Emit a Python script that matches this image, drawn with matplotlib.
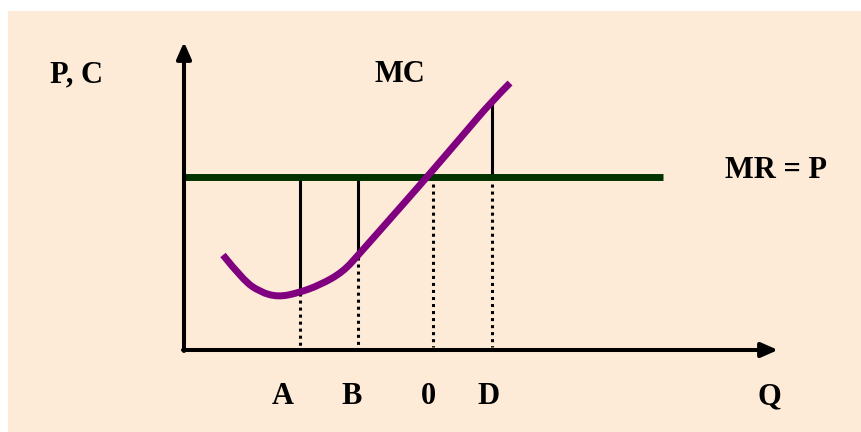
import matplotlib.pyplot as plt
from matplotlib.patches import Rectangle, PathPatch
from matplotlib.path import Path

# Curva de costo marginal (Q, C)
mc_q = [3.9, 5.9, 7.6, 9.4, 11.4, 13.6, 15.9, 17.6, 19.9, 22.1, 24.3, 27.9, 30.8, 32.6]
mc_c = [9.5, 7.0, 5.8, 5.3, 5.7, 6.5, 7.8, 9.7, 12.3, 14.8, 17.3, 21.5, 24.9, 26.7]

# Ingreso marginal = precio
precio = 17.3
mr_fin = 47.9

# Cantidades marcadas y costo marginal en cada una
cantidades = [11.6, 17.4, 24.9, 30.8]
mc_en_q = [5.7, 9.3, 17.3, 25.0]
etiquetas_q = ['A', 'B', '0', 'D']
pos_etiquetas = [9.9, 16.8, 24.4, 30.4]

fondo = '#feebd7'
morado = '#800080'
verde = '#003300'
fuente = 'Liberation Serif'

fig = plt.figure(figsize=(8.61, 4.32), dpi=100)
ax = fig.add_axes([0, 0, 1, 1])
ax.set_xlim(-18.4, 67.7)
ax.set_ylim(-8.2, 35.0)
ax.axis('off')

# Panel de fondo
ax.add_patch(Rectangle((8 / 861, 0), 1, 1 - 11 / 432, transform=ax.transAxes,
                       facecolor=fondo, edgecolor='none', zorder=0))

# Ejes con flecha
flecha = dict(arrowstyle='-|>,head_length=0.5,head_width=0.22', lw=2.9,
              color='black', mutation_scale=20, shrinkA=0, shrinkB=0)
ax.annotate('', xy=(59.4, 0), xytext=(-0.1, 0), arrowprops=flecha, zorder=5)
ax.annotate('', xy=(0, 30.8), xytext=(0, -0.1), arrowprops=flecha, zorder=5)

# Lineas verticales: solidas entre MR y MC, punteadas hasta el eje
punteado = (0, (1, 1.3))
for q, c in zip(cantidades, mc_en_q):
    ax.plot([q, q], [precio, c], color='black', lw=2.2, zorder=2)
    ax.plot([q, q], [min(precio, c), 0.3], color='black', lw=2.2,
            linestyle=punteado, zorder=2)

# MR = P
ax.plot([0, mr_fin], [precio, precio], color=verde, lw=5,
        solid_capstyle='butt', zorder=3)

# MC: curva suave con segmentos de Bezier cuadraticos
pts = list(zip(mc_q, mc_c))
verts = [pts[0]]
codes = [Path.MOVETO]
for i in range(1, len(pts) - 1):
    sig = pts[i + 1] if i == len(pts) - 2 else (
        (pts[i][0] + pts[i + 1][0]) / 2, (pts[i][1] + pts[i + 1][1]) / 2)
    verts += [pts[i], sig]
    codes += [Path.CURVE3, Path.CURVE3]
ax.add_patch(PathPatch(Path(verts, codes), facecolor='none', edgecolor=morado,
                       lw=5, capstyle='butt', zorder=4))

# Textos
estilo = dict(fontfamily=fuente, fontsize=22, fontweight='bold', color='black',
              ha='center', va='center')
ax.text(-10.7, 27.5, 'P, C', **estilo)
ax.text(21.6, 27.5, 'MC', **estilo)
ax.text(59.2, 18.0, 'MR = P', **estilo)
ax.text(58.5, -4.7, 'Q', **estilo)
for q, t in zip(pos_etiquetas, etiquetas_q):
    ax.text(q, -4.6, t, **estilo)

fig.savefig('out.png', dpi=100, facecolor='white')
